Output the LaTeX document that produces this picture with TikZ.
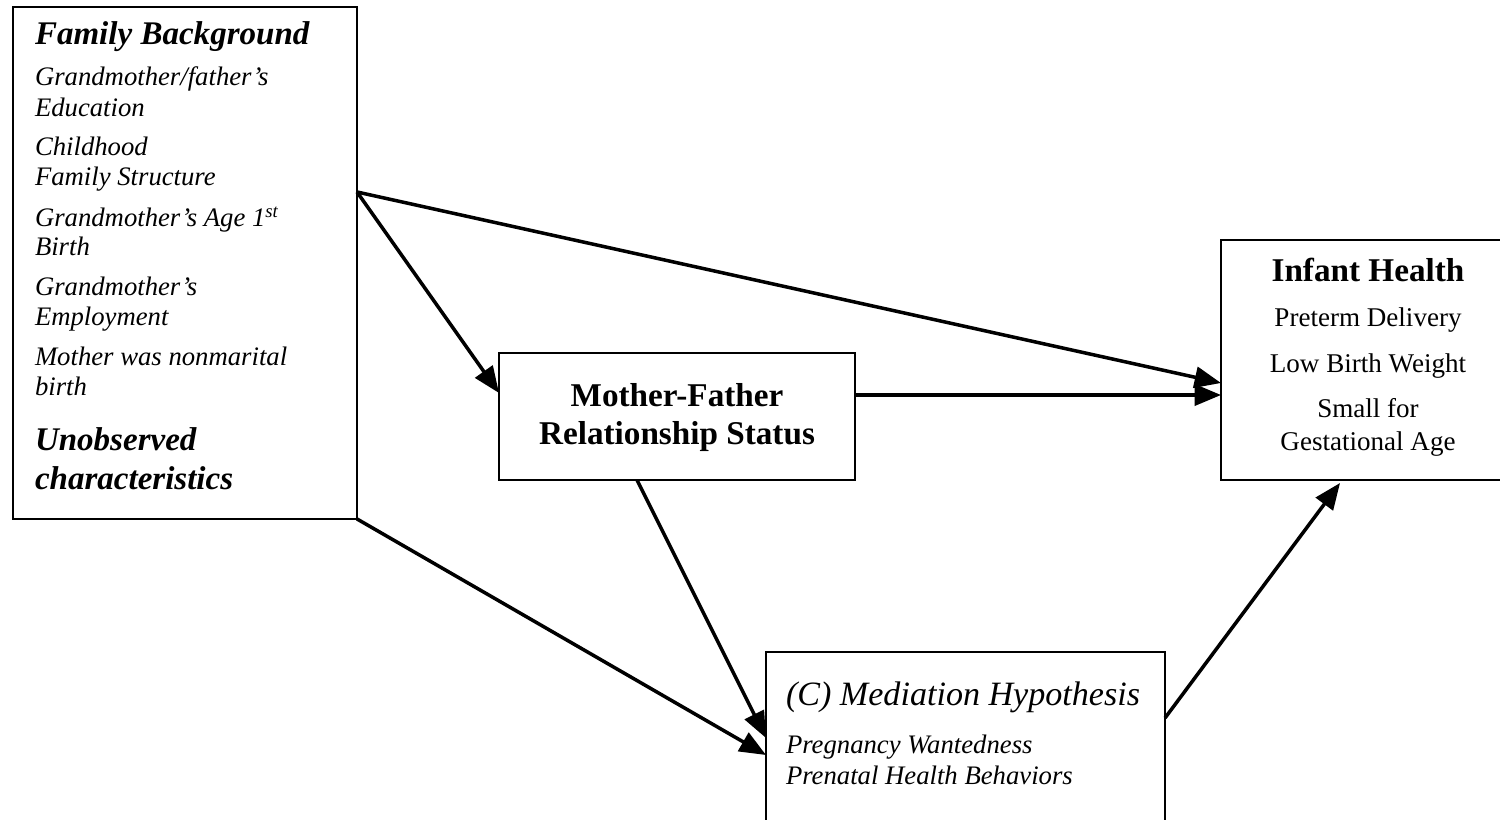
\documentclass[tikz,border=0pt]{standalone}
\usepackage{fontspec}
\setmainfont{Liberation Serif}
\usetikzlibrary{arrows.meta}
\tikzset{
  box/.style={draw=black, line width=1.1pt, fill=white, inner sep=0pt, outer sep=0pt},
  tl/.style={anchor=base west, inner sep=0pt, outer sep=0pt},
  tc/.style={anchor=base, inner sep=0pt, outer sep=0pt},
  hd/.style={font=\fontsize{18.8}{20}\selectfont\bfseries\itshape},
  it/.style={font=\fontsize{15.2}{16}\selectfont\itshape},
  bh/.style={font=\fontsize{18.9}{20}\selectfont\bfseries},
  rg/.style={font=\fontsize{15.4}{16}\selectfont},
  conn/.style={line width=2pt, -{Triangle[length=15pt,width=12pt]}, shorten >=0pt}
}
\begin{document}
\begin{tikzpicture}[x=0.02cm, y=-0.02cm]
\useasboundingbox (0,0) rectangle (1500,820);
% boxes
\node[box, minimum width=6.88cm, minimum height=10.24cm] (fam) at (185,263) {};
\node[box, minimum width=7.12cm, minimum height=2.54cm] (mf) at (677,416.5) {};
\node[box, minimum width=5.78cm, minimum height=4.8cm] (inf) at (1365.5,360) {};
\node[box, minimum width=7.98cm, minimum height=3.56cm] (med) at (965.5,741) {};
% family background text
\node[tl, hd] (f0) at (35,45) {Family Background};
\node[tl, it] (f1) at (35,86) {Grandmother/father’s};
\node[tl, it] (f2) at (35,117) {Education};
\node[tl, it] (f3) at (35,156) {Childhood};
\node[tl, it] (f4) at (35,186) {Family Structure};
\node[tl, it] (f5) at (35,227) {Grandmother’s Age 1\textsuperscript{st}};
\node[tl, it] (f6) at (35,256) {Birth};
\node[tl, it] (f7) at (35,296) {Grandmother’s};
\node[tl, it] (f8) at (35,326) {Employment};
\node[tl, it] (f9) at (35,366) {Mother was nonmarital};
\node[tl, it] (f10) at (35,396) {birth};
\node[tl, hd] (f11) at (35,451) {Unobserved};
\node[tl, hd] (f12) at (35,489) {characteristics};
% mother-father
\node[tc, bh] (m1) at (677,407) {Mother-Father};
\node[tc, bh] (m2) at (677,444) {Relationship Status};
% infant health
\node[tc, bh] (i0) at (1368,282) {Infant Health};
\node[tc, rg] (i1) at (1368,327) {Preterm Delivery};
\node[tc, rg] (i2) at (1368,373) {Low Birth Weight};
\node[tc, rg] (i3) at (1368,418) {Small for};
\node[tc, rg] (i4) at (1368,450) {Gestational Age};
% mediation
\node[tl, font=\fontsize{19.4}{20}\selectfont\itshape] (c0) at (786,705) {(C) Mediation Hypothesis};
\node[tl, it] (c1) at (786,753) {Pregnancy Wantedness};
\node[tl, it] (c2) at (786,784) {Prenatal Health Behaviors};
% connector ends
\coordinate (famA) at (357,192);
\coordinate (infA) at (1221,383);
\coordinate (infB) at (1221,395);
\coordinate (mfL) at (499,393);
\coordinate (mfR) at (855,395);
\coordinate (mfB) at (637,480);
\coordinate (medA) at (766,755);
\coordinate (medB) at (766,738);
\coordinate (medR) at (1165,718);
\coordinate (infD) at (1340,483);
% connectors
\draw[conn] (famA) -- (infA);
\draw[conn] (famA) -- (mfL);
\draw[conn] (mfR) -- (infB);
\draw[conn] (fam.south east) -- (medA);
\draw[conn] (mfB) -- (medB);
\draw[conn] (medR) -- (infD);
\end{tikzpicture}
\end{document}
